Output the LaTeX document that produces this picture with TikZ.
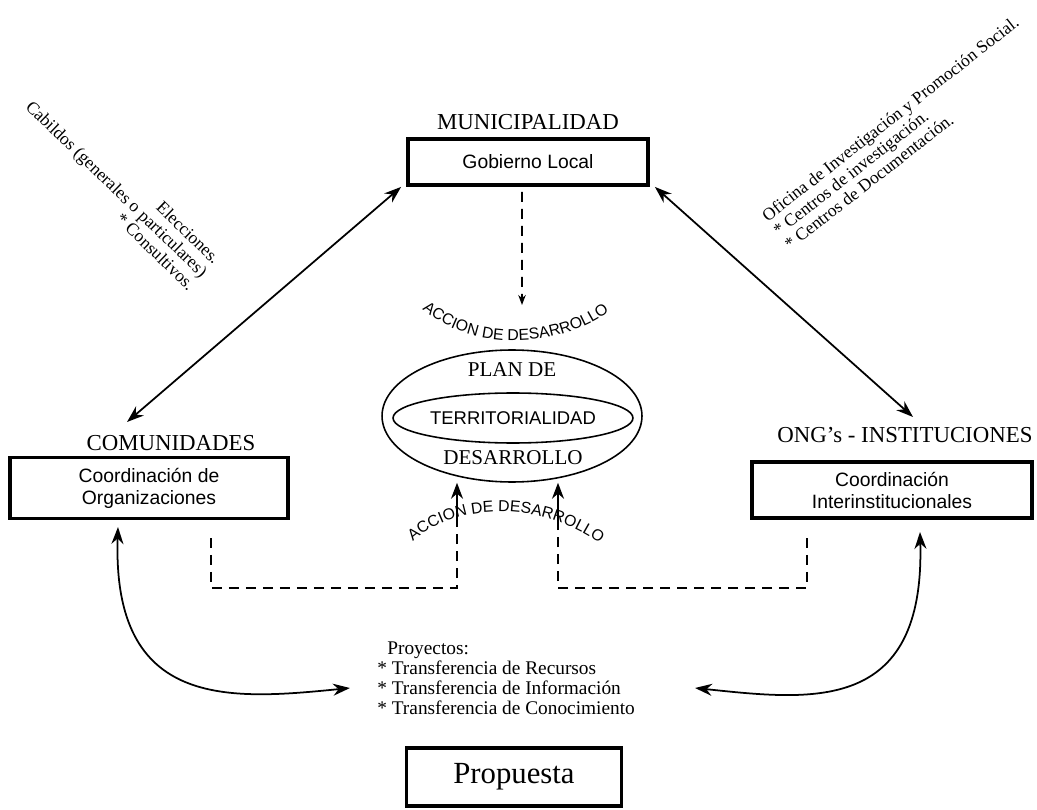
\documentclass[tikz,border=0pt]{standalone}
\usepackage{fontspec}
\setmainfont{Liberation Serif}
\setsansfont{Liberation Sans}
\usetikzlibrary{arrows.meta, positioning, calc, shapes.geometric, decorations.text}

\begin{document}
\begin{tikzpicture}[
    x=0.02cm, y=-0.02cm,
    box/.style={rectangle, draw, line width=2.2pt, align=center, inner sep=0pt, font=\sffamily\fontsize{11}{12.5}\selectfont},
    lbl/.style={font=\fontsize{13}{15}\selectfont, inner sep=1pt},
    rottext/.style={font=\fontsize{10}{10.4}\selectfont, inner sep=0pt},
    link/.style={{Stealth[length=3.4mm,width=2.4mm]}-{Stealth[length=3.4mm,width=2.4mm]}, line width=1pt},
    dashline/.style={line width=1pt, dash pattern=on 0.2cm off 0.14cm},
    uparrow/.style={-{Stealth[length=3.2mm,width=2.4mm]}, line width=1pt},
    accion/.style={decorate, decoration={text along path, text align=center,
        text={|\sffamily\fontsize{9}{9}\selectfont|ACCION DE DESARROLLO}}},
]
\useasboundingbox (0,0) rectangle (1037,810);

% actores
\node[box, minimum width=4.8cm, minimum height=0.92cm] (gob) at (528,162) {Gobierno Local};
\node[lbl, above=0.1cm of gob] (muni) {MUNICIPALIDAD};
\node[box, minimum width=5.56cm, minimum height=1.22cm] (com) at (149,488) {Coordinación de\\Organizaciones};
\node[lbl] (comlbl) at (171,443) {COMUNIDADES};
\node[box, minimum width=5.6cm, minimum height=1.12cm] (ong) at (892,490) {Coordinación\\Interinstitucionales};
\node[lbl] (onglbl) at (905,435) {ONG's - INSTITUCIONES};

% plan de desarrollo
\node[ellipse, draw, line width=0.9pt, minimum width=5.2cm, minimum height=2.64cm, inner sep=0pt] (plan) at (512,416) {};
\node[ellipse, draw, line width=0.9pt, minimum width=4.8cm, minimum height=1.0cm, inner sep=0pt] (terr) at (513,418) {};
\node[font=\sffamily\fontsize{10.5}{12}\selectfont] (terrtxt) at (terr) {TERRITORIALIDAD};
\node[font=\fontsize{12}{14}\selectfont] (plande) at (512,370) {PLAN DE};
\node[font=\fontsize{12}{14}\selectfont] (desa) at (513,458) {DESARROLLO};

% textos inclinados
\node[rottext, rotate=-44, anchor=east, align=right] (cab) at (205,274)
    {Elecciones.\\Cabildos (generales o particulares)\\* Consultivos.};
\node[rottext, rotate=38, anchor=west, align=left] (ofi) at (775,232)
    {Oficina de Investigación y Promoción Social.\\* Centros de investigación.\\* Centros de Documentación.};

\node[font=\fontsize{11}{11.4}\selectfont, align=left, anchor=west, inner sep=0pt] (proy) at (377,678)
    {\hspace*{0.2cm}Proyectos:\\* Transferencia de Recursos\\* Transferencia de Información\\* Transferencia de Conocimiento};
\node[box, font=\rmfamily\fontsize{17.5}{20}\selectfont, minimum width=4.3cm, minimum height=1.16cm] (prop) at (514,777) {Propuesta};

% puntos libres
\coordinate (comtop) at (127,422);
\coordinate (ongtop) at (913,417);
\coordinate (cf) at (118,527);
\coordinate (of) at (920,532);
\coordinate (proyl) at (350,688);
\coordinate (proyr) at (695,688);
\coordinate (dl) at (211,538);
\coordinate (dr) at (807,538);
\coordinate (bl) at (457,588);
\coordinate (br) at (558,588);
\coordinate (ul) at (457,525);
\coordinate (ur) at (558,525);
\coordinate (acc) at (522,305);

\draw[link] ([xshift=-0.1cm]gob.south west) -- (comtop);
\draw[link] ([xshift=0.1cm]gob.south east) -- (ongtop);
\draw[link] (cf) .. controls (112,710) and (230,700) .. (proyl);
\draw[link] (of) .. controls (925,715) and (810,700) .. (proyr);

\draw[dashline, -{Stealth[length=2mm,width=1.5mm]}] ([xshift=-0.12cm,yshift=-0.1cm]gob.south) -- (acc);
\draw[dashline] (dl) |- (bl) -- (ul);
\draw[dashline] (dr) |- (br) -- (ur);
\draw[uparrow] (ul) -- (ul |- plan.south);
\draw[uparrow] (ur) -- (ur |- plan.south);

\path[accion] (414,302) .. controls (466,354) and (564,352) .. (618,304);
\path[accion] (402,553) .. controls (446,498) and (550,498) .. (612,553);
\end{tikzpicture}
\end{document}
